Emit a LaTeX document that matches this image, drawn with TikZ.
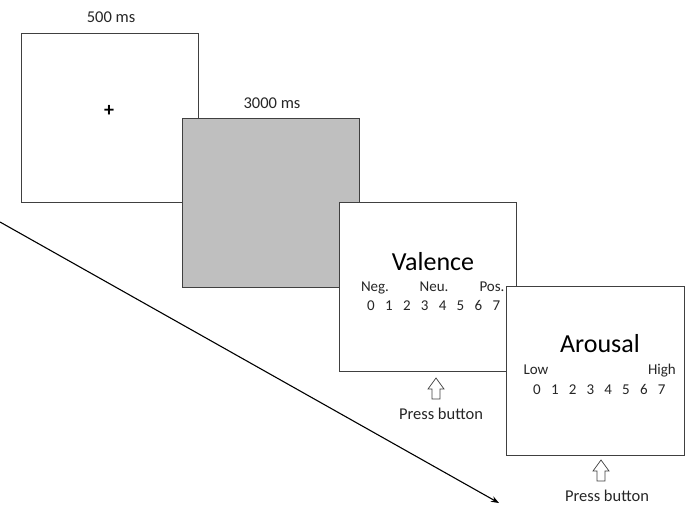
\documentclass[tikz,border=0pt]{standalone}
\usepackage{fontspec}
\setmainfont{Carlito}
\usetikzlibrary{arrows.meta}
\definecolor{scrgray}{RGB}{191,191,191}
\definecolor{edge}{RGB}{64,64,64}
\tikzset{
  screen/.style={draw=edge, line width=0.9pt, fill=white, minimum width=177pt, minimum height=169pt, inner sep=0pt, anchor=north west},
  lbl/.style={font=\fontsize{16.5}{18}\selectfont, text=black!85, inner sep=0pt},
  big/.style={font=\fontsize{26}{30}\selectfont, inner sep=0pt},
  small/.style={font=\fontsize{15}{17}\selectfont, text=black!85, inner sep=0pt, anchor=base},
  uparrow/.style={draw=edge, line width=0.7pt, fill=white}
}
\begin{document}
\begin{tikzpicture}[x=1pt,y=-1pt]
\useasboundingbox (0,0) rectangle (685,517);
% screens
\node[screen] (s1) at (21,33) {};
\node[screen, fill=scrgray] (s2) at (182,118) {};
\node[screen] (s3) at (339,202) {};
\node[screen, minimum width=178pt] (s4) at (506,286) {};
% labels above
\node[lbl] (t1) at (111,17) {500 ms};
\node[lbl] (t2) at (272,103) {3000 ms};
\node[font=\fontsize{20}{22}\selectfont\bfseries, inner sep=0pt] (plus) at (109,111) {+};
% valence
\node[big] (val) at (433,262) {Valence};
\node[small] (neg) at (375,291) {Neg.};
\node[small] (neu) at (434,291) {Neu.};
\node[small] (pos) at (492,291) {Pos.};
\foreach \i in {0,...,7} {
  \node[small] (v\i) at ({371+17.9*\i},310) {\i};
}
% arousal
\node[big] (aro) at (600,344) {Arousal};
\node[small] (low) at (536,374) {Low};
\node[small] (high) at (662,374) {High};
\foreach \i in {0,...,7} {
  \node[small] (a\i) at ({537+17.8*\i},394) {\i};
}
% press buttons
\draw[uparrow] (432,399) -- (432,389) -- (428,389) -- (436,378) -- (444,389) -- (440,389) -- (440,399) -- cycle;
\node[lbl] (pb1) at (441,414) {Press button};
\draw[uparrow] (597,481) -- (597,471) -- (593,471) -- (601,460) -- (609,471) -- (605,471) -- (605,481) -- cycle;
\node[lbl] (pb2) at (607,496) {Press button};
% time arrow
\coordinate (ts) at (0,222);
\coordinate (te) at (499,503);
\draw[line width=1.1pt, -{Stealth[length=8pt,width=6pt]}] (ts) -- (te);
\end{tikzpicture}
\end{document}
